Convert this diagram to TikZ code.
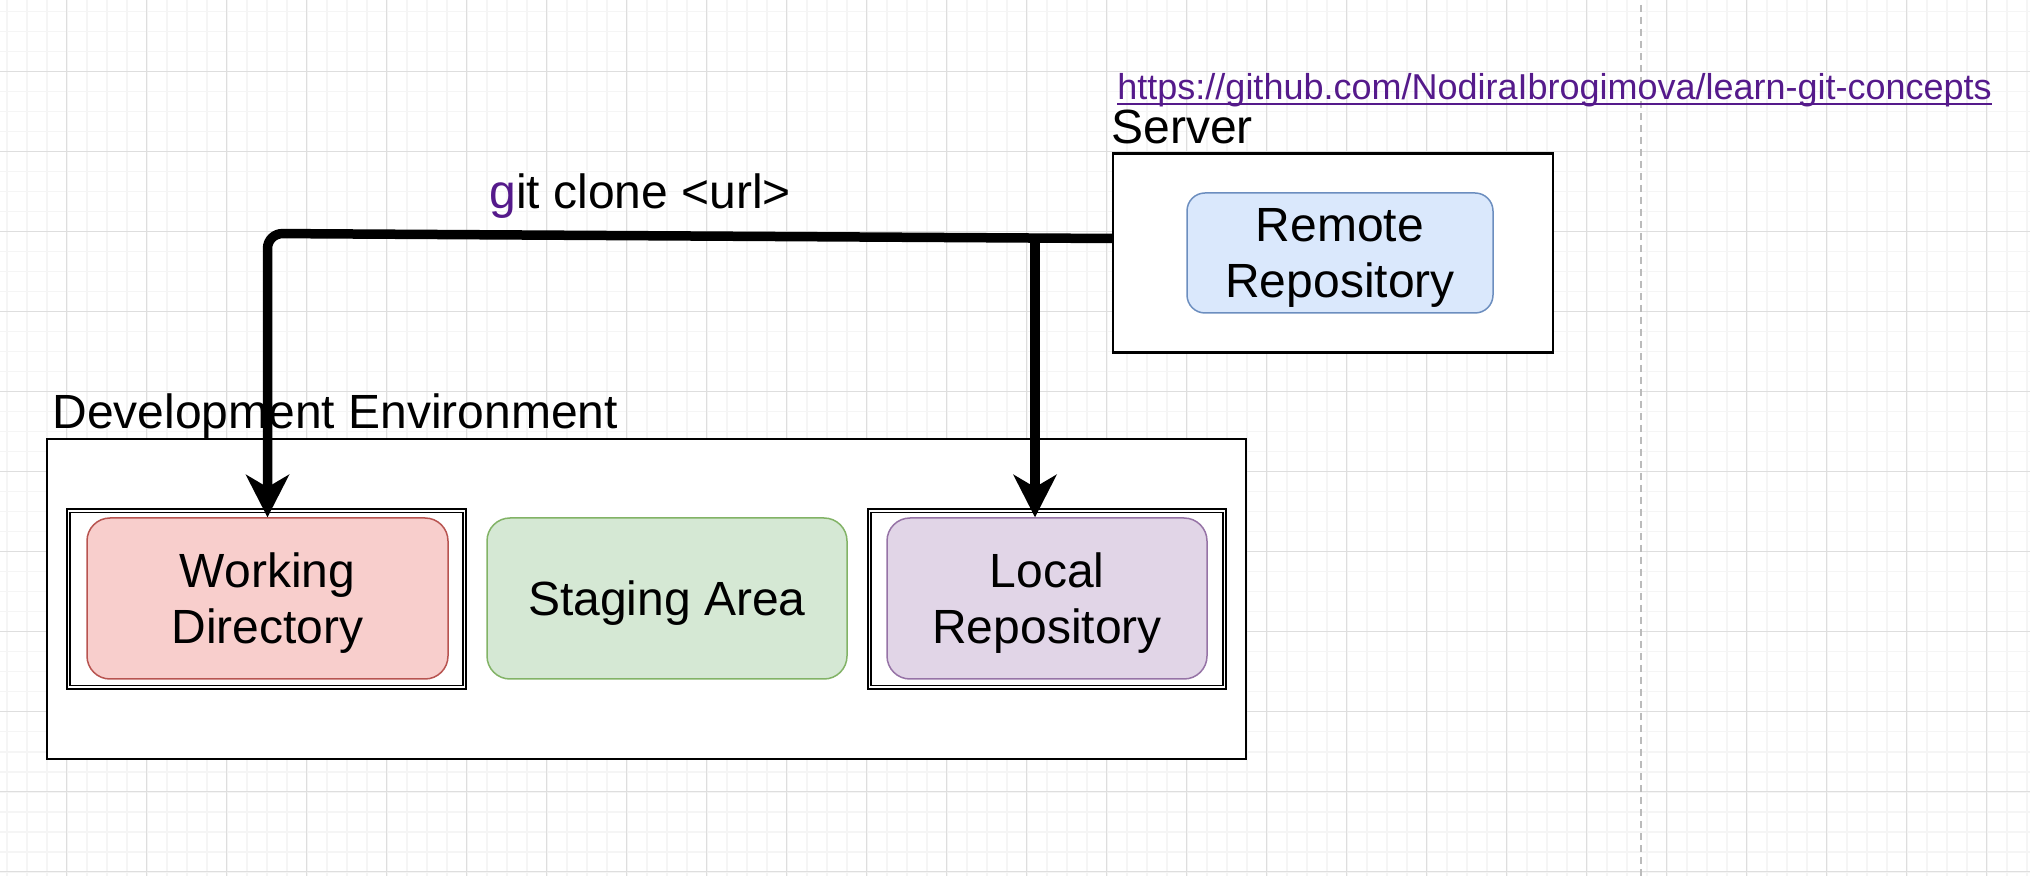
\documentclass[tikz,border=0pt]{standalone}
\usepackage{fontspec}
\setmainfont{Liberation Sans}
\usetikzlibrary{arrows.meta}
\definecolor{linkpurple}{HTML}{551A8B}
\definecolor{gridminor}{HTML}{F5F5F5}
\definecolor{gridmajor}{HTML}{DEDEDE}
\definecolor{dashgray}{HTML}{BBBBBB}
\definecolor{redfill}{HTML}{F8CECC}
\definecolor{redline}{HTML}{B85450}
\definecolor{greenfill}{HTML}{D5E8D4}
\definecolor{greenline}{HTML}{82B366}
\definecolor{purplefill}{HTML}{E1D5E7}
\definecolor{purpleline}{HTML}{9673A6}
\definecolor{bluefill}{HTML}{DAE8FC}
\definecolor{blueline}{HTML}{6C8EBF}
\newcommand{\mainfs}{\fontsize{24pt}{28pt}\selectfont}
\newcommand{\urlfs}{\fontsize{18pt}{21pt}\selectfont}
\tikzset{
  minorline/.style={draw=gridminor, line width=0.8pt},
  majorline/.style={draw=gridmajor, line width=0.6pt},
  lbl/.style={font=\mainfs, inner sep=0pt, anchor=base west},
  container/.style={draw, fill=white, line width=1pt, inner sep=0pt},
  dframe/.style={draw, double, double distance=0.65pt, line width=0.9pt, fill=white, inner sep=0pt},
  rbox/.style={draw, rounded corners=11.5pt, line width=0.75pt, inner sep=0pt,
    align=center, font=\mainfs, text depth=0pt},
  conn/.style={line width=4.75pt, line join=round,
    -{Stealth[length=21.5pt, width=22pt, inset=6.5pt, line width=0pt]}}
}
\begin{document}
\begin{tikzpicture}[x=0.5pt, y=-0.5pt]
\useasboundingbox (0,0) rectangle (2030,876);
\fill[white] (0,0) rectangle (2030,876);
% grid
\foreach \gx in {6.7,26.7,...,2030} \draw[minorline] (\gx,0) -- (\gx,876);
\foreach \gy in {11.7,31.7,...,876} \draw[minorline] (0,\gy) -- (2030,\gy);
\foreach \gx in {66.7,146.7,...,2030} \draw[majorline] (\gx,0) -- (\gx,876);
\foreach \gy in {71.7,151.7,...,876} \draw[majorline] (0,\gy) -- (2030,\gy);
% page break line
\draw[dashgray, line width=1pt, dash pattern=on 3.5pt off 2.5pt] (1641,5) -- (1641,876);

% containers
\node[container, minimum width=599.5pt, minimum height=160pt] (dev) at (646.5,598.8) {};
\node[container, line width=1.15pt, minimum width=219.75pt, minimum height=99.5pt] (srv) at (1333,253) {};

% remote repository
\node[rbox, rounded corners=9pt, fill=bluefill, draw=blueline, minimum width=153pt, minimum height=60pt] (rr) at (1340,253) {Remote\\Repository};

% double frames
\node[dframe, minimum width=197.8pt, minimum height=88.1pt] (wdframe) at (266.4,599) {};
\node[dframe, minimum width=177.4pt, minimum height=88.1pt] (lrframe) at (1047,599) {};

% boxes
\node[rbox, fill=redfill, draw=redline, minimum width=180.5pt, minimum height=80.5pt] (wd) at (267.5,598.5) {Working\\Directory};
\node[rbox, fill=greenfill, draw=greenline, minimum width=180pt, minimum height=80.5pt] (sa) at (667,598.5) {Staging Area};
\node[rbox, fill=purplefill, draw=purpleline, minimum width=160pt, minimum height=80.5pt] (lr) at (1047,598.5) {Local\\Repository};

% labels
\node[lbl] (devlbl) at (52,429) {Development Environment};
\node[lbl] (srvlbl) at (1111,144) {Server};
\node[lbl] (cmd) at (489,209) {{\color{linkpurple}g}it clone \textless url\textgreater};
\node[lbl, font=\urlfs, text=linkpurple] (url) at (1117,100) {https://github.com/NodiraIbrogimova/learn-git-concepts};
\draw[linkpurple, line width=1pt] ([yshift=-1.8pt]url.base west) -- ([yshift=-1.8pt]url.base east);

% connectors
\coordinate (srvout) at (1112,238.5);
\coordinate (bend) at (267.5,233.5);
\coordinate (junc) at (1035,238.5);
\draw[conn, rounded corners=7.5pt] (srvout) -- (bend) -- (wd.north);
\draw[conn] (srvout) -- (junc) -- (junc |- lr.north);
\end{tikzpicture}
\end{document}
